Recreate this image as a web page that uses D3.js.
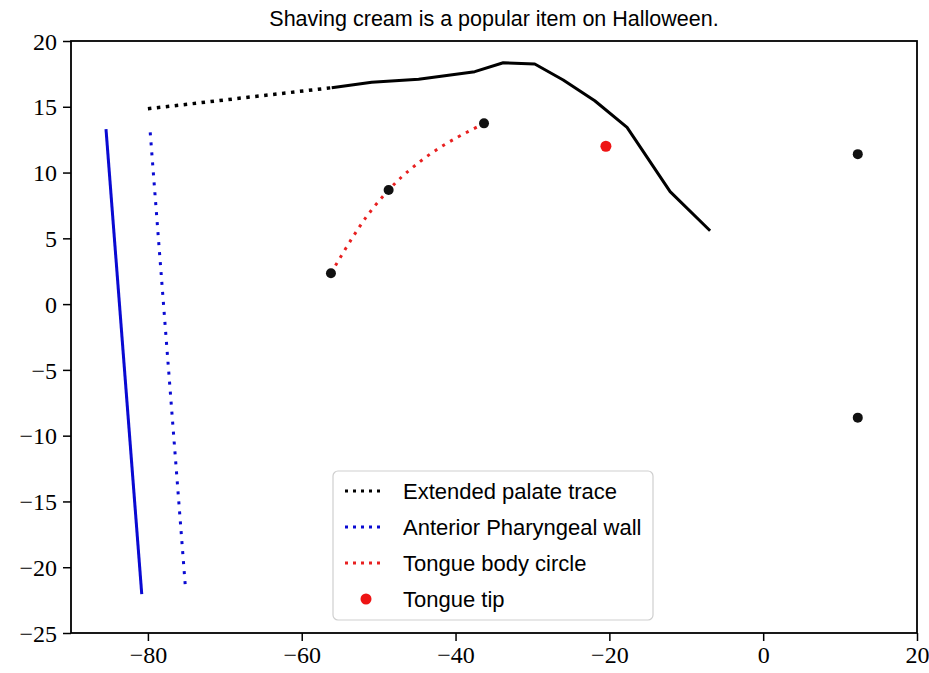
<!DOCTYPE html>
<html>
<head>
<meta charset="utf-8">
<script src="https://cdn.jsdelivr.net/npm/d3@7"></script>
<style>
  body { margin: 0; background: #fff; }
  svg { display: block; }
  .tick text { font-family: "Liberation Serif", "DejaVu Serif", serif; font-size: 24px; fill: #000; }
</style>
</head>
<body>
<div id="chart"></div>
<script>
// palate trace (solid black)
const palateX = [-56.1, -50.9, -44.8, -37.5, -33.8, -29.7, -26.0, -21.9, -17.7, -12.1, -6.9];
const palateY = [16.45, 16.86, 17.09, 17.67, 18.35, 18.25, 17.04, 15.46, 13.44, 8.55, 5.58];
// extended palate trace (dotted black)
const extPalateX = [-80.0, -56.1];
const extPalateY = [14.85, 16.45];
// pharyngeal wall (solid blue) and anterior pharyngeal wall (dotted blue)
const wallX = [-85.45, -80.8];
const wallY = [13.3, -22.05];
const antWallX = [-79.7, -75.1];
const antWallY = [13.05, -21.7];
// tongue body circle (dotted red)
const tongueX = [-56.2, -54.15, -52.65, -51.35, -49.8, -48.7, -47.45, -45.5, -42.7, -39.6, -37.25, -36.3];
const tongueY = [2.35, 4.37, 5.76, 6.85, 7.97, 8.67, 9.45, 10.45, 11.7, 12.75, 13.44, 13.74];
// black points
const pointX = [-56.2, -48.7, -36.3, 12.3, 12.3];
const pointY = [2.35, 8.67, 13.74, 11.4, -8.63];
// tongue tip (red point)
const tipX = [-20.45];
const tipY = [12.0];

const xTicks = [-80, -60, -40, -20, 0, 20];
const yTicks = [-25, -20, -15, -10, -5, 0, 5, 10, 15, 20];
const legendLabels = ['Extended palate trace', 'Anterior Pharyngeal wall', 'Tongue body circle', 'Tongue tip'];
const title = 'Shaving cream is a popular item on Halloween.';

const width = 929, height = 673;
const margin = { top: 41, right: 12, bottom: 40, left: 71 };
const plotW = width - margin.left - margin.right;
const plotH = height - margin.top - margin.bottom;

const blue = '#0a0ad2', red = '#e82020';

const svg = d3.select('#chart').append('svg')
  .attr('width', width).attr('height', height);

const xScale = d3.scaleLinear().domain([-90, 20]).range([0, plotW]);
const yScale = d3.scaleLinear().domain([-25, 20]).range([plotH, 0]);

const g = svg.append('g').attr('transform', `translate(${margin.left}, ${margin.top})`);

const zip = (xs, ys) => xs.map((x, i) => [x, ys[i]]);
const line = d3.line().x(d => xScale(d[0])).y(d => yScale(d[1]));
const smooth = d3.line().x(d => xScale(d[0])).y(d => yScale(d[1])).curve(d3.curveBasis);

// dotted lines
g.append('path').datum(zip(extPalateX, extPalateY))
  .attr('d', line).attr('fill', 'none').attr('stroke', '#000')
  .attr('stroke-width', 3.5).attr('stroke-dasharray', '3.5,5.5');
g.append('path').datum(zip(antWallX, antWallY))
  .attr('d', line).attr('fill', 'none').attr('stroke', blue)
  .attr('stroke-width', 3).attr('stroke-dasharray', '3,7');
g.append('path').datum(zip(tongueX, tongueY))
  .attr('d', smooth).attr('fill', 'none').attr('stroke', red)
  .attr('stroke-width', 3).attr('stroke-dasharray', '3,6');

// solid lines
g.append('path').datum(zip(palateX, palateY))
  .attr('d', line).attr('fill', 'none').attr('stroke', '#000')
  .attr('stroke-width', 3).attr('stroke-linejoin', 'round');
g.append('path').datum(zip(wallX, wallY))
  .attr('d', line).attr('fill', 'none').attr('stroke', blue)
  .attr('stroke-width', 3);

// points
g.selectAll('.pt').data(zip(pointX, pointY)).enter().append('circle')
  .attr('class', 'pt')
  .attr('cx', d => xScale(d[0])).attr('cy', d => yScale(d[1]))
  .attr('r', 5).attr('fill', '#111');
g.selectAll('.tip').data(zip(tipX, tipY)).enter().append('circle')
  .attr('class', 'tip')
  .attr('cx', d => xScale(d[0])).attr('cy', d => yScale(d[1]))
  .attr('r', 5.5).attr('fill', '#ee1414');

// axes
const xAxis = d3.axisBottom(xScale).tickValues(xTicks).tickSizeInner(8).tickSizeOuter(0).tickPadding(5);
const yAxis = d3.axisLeft(yScale).tickValues(yTicks).tickSizeInner(8).tickSizeOuter(0).tickPadding(6);
const gx = g.append('g').attr('transform', `translate(0, ${plotH})`).call(xAxis);
const gy = g.append('g').call(yAxis);
gx.select('.domain').remove();
gy.select('.domain').remove();
gx.selectAll('.tick line').attr('stroke-width', 1.5);
gy.selectAll('.tick line').attr('stroke-width', 1.5);
gy.selectAll('.tick text').attr('dy', '0.34em');

// frame
g.append('rect').attr('width', plotW).attr('height', plotH)
  .attr('fill', 'none').attr('stroke', '#000').attr('stroke-width', 1.8);

// title
svg.append('text')
  .attr('x', margin.left + plotW / 2).attr('y', 26)
  .attr('text-anchor', 'middle')
  .style('font-family', '"Liberation Sans", Arial, sans-serif')
  .style('font-size', '21.5px')
  .text(title);

// legend
const legend = svg.append('g').attr('transform', 'translate(333, 471)');
legend.append('rect').attr('width', 320).attr('height', 149)
  .attr('rx', 5).attr('fill', '#fff').attr('fill-opacity', 0.85)
  .attr('stroke', '#cfcfcf').attr('stroke-width', 1.2);
const legendStyles = [
  { color: '#000', type: 'line' },
  { color: blue, type: 'line' },
  { color: red, type: 'line' },
  { color: '#ee1414', type: 'dot' }
];
legendLabels.forEach((label, i) => {
  const cy = 20 + i * 36;
  const s = legendStyles[i];
  if (s.type === 'line') {
    legend.append('line')
      .attr('x1', 12).attr('x2', 50).attr('y1', cy).attr('y2', cy)
      .attr('stroke', s.color).attr('stroke-width', 3).attr('stroke-dasharray', '3,5');
  } else {
    legend.append('circle').attr('cx', 33).attr('cy', cy).attr('r', 5.5).attr('fill', s.color);
  }
  legend.append('text')
    .attr('x', 70).attr('y', cy + 8)
    .style('font-family', '"Liberation Sans", Arial, sans-serif')
    .style('font-size', '22px')
    .text(label);
});
</script>
</body>
</html>
